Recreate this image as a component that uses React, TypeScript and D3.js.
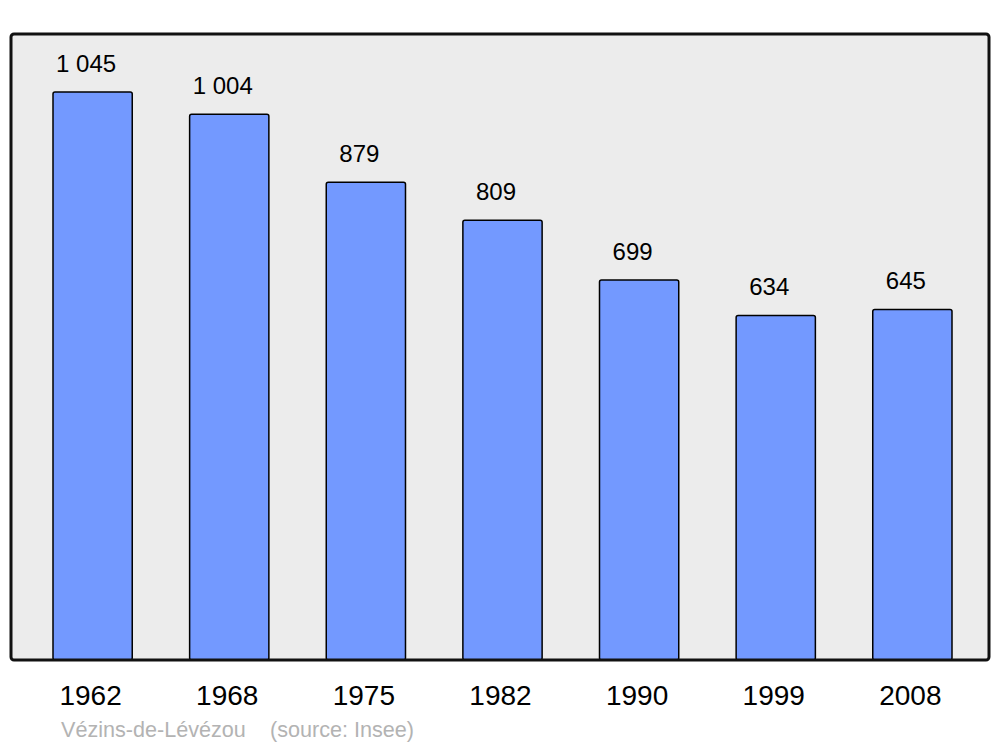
import React from "react";
import * as d3 from "d3";

const years = ["1962", "1968", "1975", "1982", "1990", "1999", "2008"];
const population = [1045, 1004, 879, 809, 699, 634, 645];
const valueLabels = ["1 045", "1 004", "879", "809", "699", "634", "645"];
const commune = "Vézins-de-Lévézou";
const source = "(source: Insee)";

const W = 1000;
const H = 747;
const panel = { x: 11, y: 34, w: 978, h: 626 };

export default function App() {
  const x = d3.scaleBand<string>().domain(years).range([53, 952]).paddingInner(0.42).paddingOuter(0);
  const y = d3.scaleLinear().domain([0, 1150]).range([panel.y + panel.h, panel.y + 1]);
  const font = "'Liberation Sans', Arial, sans-serif";
  return (
    <svg width={W} height={H} style={{ position: "absolute", left: 0, top: 0 }} fontFamily={font}>
      <rect x={0} y={0} width={W} height={H} fill="#ffffff" />
      <rect x={panel.x} y={panel.y} width={panel.w} height={panel.h} rx={3} fill="#ececec" stroke="none" />
      {years.map((yr, i) => {
        const bx = x(yr)!;
        const top = y(population[i]);
        return (
          <g key={yr}>
            <rect x={bx} y={top} width={x.bandwidth()} height={y(0) - top} rx={2} fill="#7399ff" stroke="#000" strokeWidth={1.5} />
            <text x={bx + x.bandwidth() / 2 - 6.5} y={top - 20} textAnchor="middle" fontSize={24} fill="#000">
              {valueLabels[i]}
            </text>
            <text x={bx + x.bandwidth() / 2 - 2} y={705} textAnchor="middle" fontSize={28} fill="#000">
              {yr}
            </text>
          </g>
        );
      })}
      <rect x={panel.x} y={panel.y} width={panel.w} height={panel.h} rx={3} fill="none" stroke="#111" strokeWidth={3} />
      <text x={61} y={737} fontSize={21.6} fill="#b3b3b3">{commune}</text>
      <text x={270} y={737} fontSize={21.6} fill="#b3b3b3">{source}</text>
    </svg>
  );
}
